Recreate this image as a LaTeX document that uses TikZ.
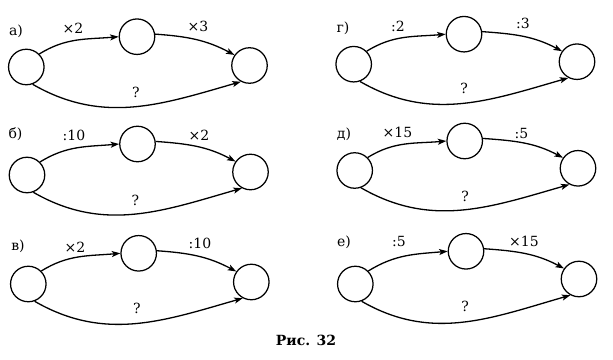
\documentclass[tikz,border=0pt]{standalone}
\usepackage{fontspec}
\setmainfont{DejaVu Serif}
\usetikzlibrary{arrows.meta}
\tikzset{
  circ/.style={circle,draw,line width=1.25pt,minimum size=35.5pt,inner sep=0pt},
  arr/.style={line width=1.3pt,-{Stealth[length=8.5pt,width=6pt,inset=2pt]}},
  lab/.style={inner sep=0pt,font=\fontsize{14}{16}\selectfont},
  captext/.style={inner sep=0pt,font=\fontsize{14}{16}\selectfont\bfseries}
}
\newcommand\flow[4]{%
  \node[circ] (#1L) at (#2) {};
  \node[circ] (#1T) at (#3) {};
  \node[circ] (#1R) at (#4) {};
  \draw[arr] (#1L.45) to[out=32,in=185] (#1T.180);
  \draw[arr] (#1T.8) to[out=-4,in=152] (#1R.145);
  \draw[arr] (#1L.-70) to[out=-30,in=196] (#1R.-118);
}
\begin{document}
\begin{tikzpicture}[x=1pt,y=1pt]
\useasboundingbox (0,0) rectangle (613,359);
% a
\flow{a}{26.3,292}{137,322.3}{249.5,293.5}
\node[lab] (alab) at (16,328) {а)};
\node[lab] (aop1) at (73,331) {×2};
\node[lab] (aop2) at (198,333) {×3};
\node[lab] (aq) at (136,267) {?};
% b
\flow{b}{27,184}{137.5,215}{250.5,187}
\node[lab] (blab) at (15.5,225) {б)};
\node[lab] (bop1) at (74,224) {:10};
\node[lab] (bop2) at (199,224) {×2};
\node[lab] (bq) at (135.5,159) {?};
% v
\flow{v}{28.3,75}{138.7,105.7}{251.3,77}
\node[lab] (vlab) at (18,113) {в)};
\node[lab] (vop1) at (75,112) {×2};
\node[lab] (vop2) at (200,116) {:10};
\node[lab] (vq) at (137,51) {?};
% g
\flow{g}{353.7,294.8}{464,324.8}{577,297.3}
\node[lab] (glab) at (343,331) {г)};
\node[lab] (gop1) at (398,333) {:2};
\node[lab] (gop2) at (523,336) {:3};
\node[lab] (gq) at (464,271) {?};
% d
\flow{d}{354.7,188.5}{464.7,218}{578,190.7}
\node[lab] (dlab) at (344,225) {д)};
\node[lab] (dop1) at (397.5,227) {×15};
\node[lab] (dop2) at (521.5,226) {:5};
\node[lab] (dq) at (465,162.3) {?};
% e
\flow{e}{355.3,75}{466,107.7}{579,80}
\node[lab] (elab) at (344,116.5) {е)};
\node[lab] (eop1) at (399,117.3) {:5};
\node[lab] (eop2) at (524,118) {×15};
\node[lab] (eq) at (465,53) {?};
% caption
\node[captext] (caption) at (306,18.5) {Рис. 32};
\end{tikzpicture}
\end{document}
